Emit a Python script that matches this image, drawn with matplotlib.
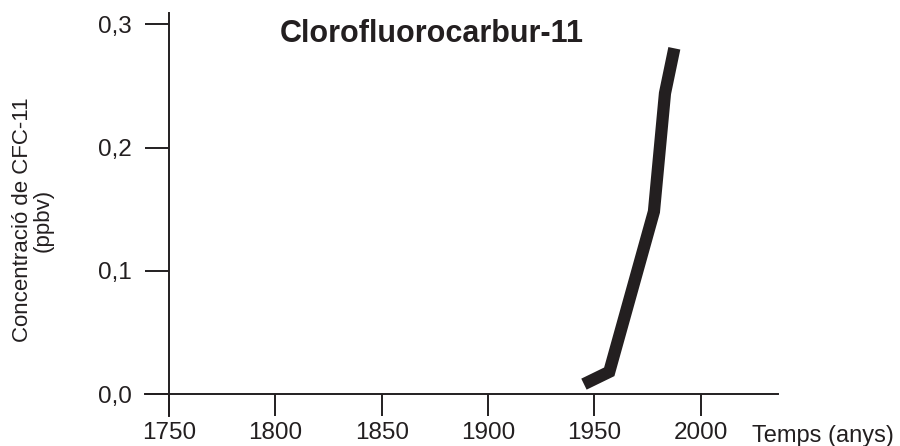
import matplotlib
matplotlib.use("Agg")
import matplotlib.pyplot as plt

# CFC-11 concentration (ppbv)
years = [1945.1, 1957.0, 1978.0, 1983.2, 1987.6]
conc = [0.008, 0.018, 0.148, 0.244, 0.2805]

xticks = [1750, 1800, 1850, 1900, 1950, 2000]
yticks = [0.0, 0.1, 0.2, 0.3]
ytick_labels = ["0,0", "0,1", "0,2", "0,3"]

ink = "#231f20"
plt.rcParams['font.family'] = ['Liberation Sans', 'DejaVu Sans']

fig = plt.figure(figsize=(9, 4.46), dpi=100)
ax = fig.add_axes([0.16111, 0.06726, 0.70300, 0.90291])

ax.plot(years, conc, color=ink, lw=8.8, solid_capstyle='butt', solid_joinstyle='miter')

ax.set_xlim(1738.7, 2036.2)
ax.set_ylim(-0.01785, 0.3089)

for s in ['top', 'right']:
    ax.spines[s].set_visible(False)
ax.spines['left'].set_position(('data', 1750))
ax.spines['bottom'].set_position(('data', 0))
for s in ['left', 'bottom']:
    ax.spines[s].set_linewidth(1.4)
    ax.spines[s].set_color(ink)

ax.set_xticks(xticks)
ax.set_xticklabels([str(y) for y in xticks])
ax.set_yticks(yticks)
ax.set_yticklabels(ytick_labels)
ax.tick_params(axis='x', direction='out', length=15.8, width=1.4, color=ink,
               labelsize=17.5, labelcolor=ink, pad=4)
ax.tick_params(axis='y', direction='out', length=17.3, width=1.4, color=ink,
               labelsize=17.5, labelcolor=ink, pad=9.6)

fig.text(0.48, 0.9065, "Clorofluorocarbur-11", fontsize=22, fontweight='bold',
         color=ink, ha='center', va='baseline')
fig.text(0.0367, 0.5067, "Concentració de CFC-11\n(ppbv)", fontsize=16, color=ink,
         rotation=90, ha='center', va='center', multialignment='center',
         linespacing=1.0)
fig.text(0.8356, 0.009, "Temps (anys)", fontsize=17, color=ink,
         ha='left', va='baseline')

fig.savefig("out.png", dpi=100)
